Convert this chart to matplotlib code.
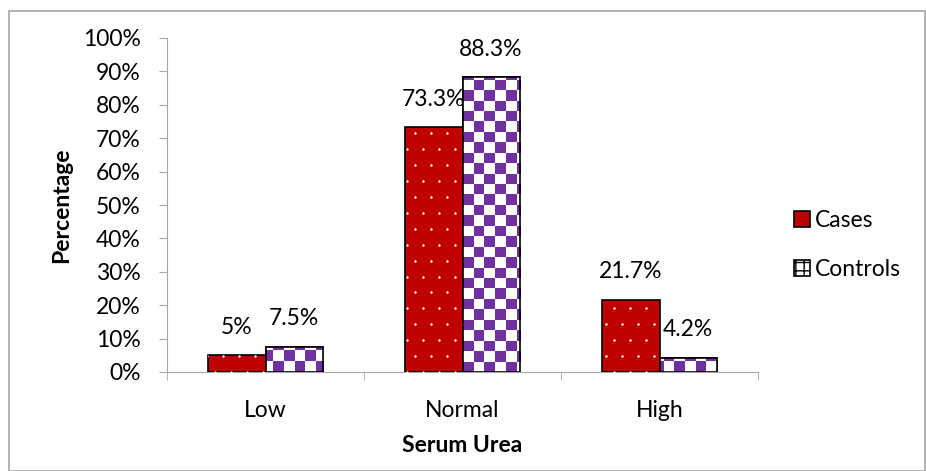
import matplotlib
matplotlib.use("Agg")
import matplotlib.pyplot as plt
import numpy as np
from matplotlib.patches import Rectangle
from matplotlib.colors import ListedColormap

categories = ["Low", "Normal", "High"]
cases = [5, 73.3, 21.7]
controls = [7.5, 88.3, 4.2]
case_labels = ["5%", "73.3%", "21.7%"]
control_labels = ["7.5%", "88.3%", "4.2%"]
yticks = [0, 10, 20, 30, 40, 50, 60, 70, 80, 90, 100]

RED = "#C00000"
PURPLE = "#7030A0"
FS = 16.5
plt.rcParams['font.family'] = ['Lato', 'DejaVu Sans']

fig = plt.figure(figsize=(9.26, 4.71), dpi=100)
fig.patches.append(Rectangle((9/926, 0), 916/926, 1 - 11/471, transform=fig.transFigure,
                             fill=False, edgecolor="#a6a6a6", linewidth=1.2))
ax = fig.add_axes([167/926, 1 - 372/471, 591/926, 334/471])

x = np.arange(len(categories))
w = 0.29
bc = ax.bar(x - w/2, cases, w, color=RED, edgecolor="black", linewidth=1.2, zorder=3)
bk = ax.bar(x + w/2, controls, w, color="white", edgecolor="black", linewidth=1.2, zorder=3)

ax.set_xlim(-0.5, len(categories) - 0.5)
ax.set_ylim(0, 100)

# checkerboard fill for controls (clipped)
nx, ny = 56, 32
cb = (np.add.outer(np.arange(ny), np.arange(nx)) % 2).astype(float)
cmap = ListedColormap(["white", PURPLE])
for b in bk:
    im = ax.imshow(cb, cmap=cmap, extent=(0, 1, 0, 1), transform=ax.transAxes,
                   aspect="auto", interpolation="nearest", zorder=3.5)
    im.set_clip_path(b)
    ax.add_patch(Rectangle(b.get_xy(), b.get_width(), b.get_height(), fill=False,
                           edgecolor="black", linewidth=1.2, zorder=4))

# white dots for cases (clipped)
gx, gy = np.meshgrid(np.arange(0, 1, 1/37), np.arange(0, 1, 1/21))
gx2 = gx + (np.arange(gy.shape[0]) % 2)[:, None] * (0.5/37)
for b in bc:
    sc = ax.scatter(gx2.ravel(), gy.ravel(), s=3, color="white", transform=ax.transAxes,
                    zorder=3.6, linewidths=0)
    sc.set_clip_path(b)

for i in range(len(categories)):
    ax.annotate(case_labels[i], (x[i] - w/2, cases[i]), xytext=(0, 28), textcoords="offset pixels",
                ha="center", va="center", fontsize=FS)
    ax.annotate(control_labels[i], (x[i] + w/2, controls[i]), xytext=(0, 28), textcoords="offset pixels",
                ha="center", va="center", fontsize=FS)

ax.set_yticks(yticks)
ax.set_yticklabels([f"{v}%" for v in yticks], fontsize=FS)
ax.set_xticks(x)
ax.set_xticklabels(categories, fontsize=FS)
ax.set_xticks(np.arange(-0.5, len(categories)), minor=True)
ax.tick_params(axis="x", which="major", length=0, pad=20)
ax.tick_params(axis="x", which="minor", length=6, color="#a6a6a6")
ax.tick_params(axis="y", length=6, color="#a6a6a6", pad=13)
for s in ["top", "right"]:
    ax.spines[s].set_visible(False)
for s in ["left", "bottom"]:
    ax.spines[s].set_color("#a6a6a6")

ax.set_ylabel("Percentage", fontsize=FS, fontweight="bold", labelpad=8)
ax.set_xlabel("Serum Urea", fontsize=FS, fontweight="bold", labelpad=10)

h1 = Rectangle((0, 0), 1, 1, facecolor=RED, edgecolor="black", linewidth=1.2)
h2 = Rectangle((0, 0), 1, 1, facecolor="white", edgecolor=PURPLE, hatch="++", linewidth=1.2)
leg = fig.legend([h1, h2], ["Cases", "Controls"], loc="center left",
                 bbox_to_anchor=(794/926, 1 - 245/471), frameon=False, fontsize=FS,
                 handlelength=0.7, handleheight=0.7, handletextpad=0.2, labelspacing=1.2,
                 borderpad=0, borderaxespad=0)
leg.legend_handles[1].set_edgecolor("black")

fig.savefig("out.png", dpi=100)
